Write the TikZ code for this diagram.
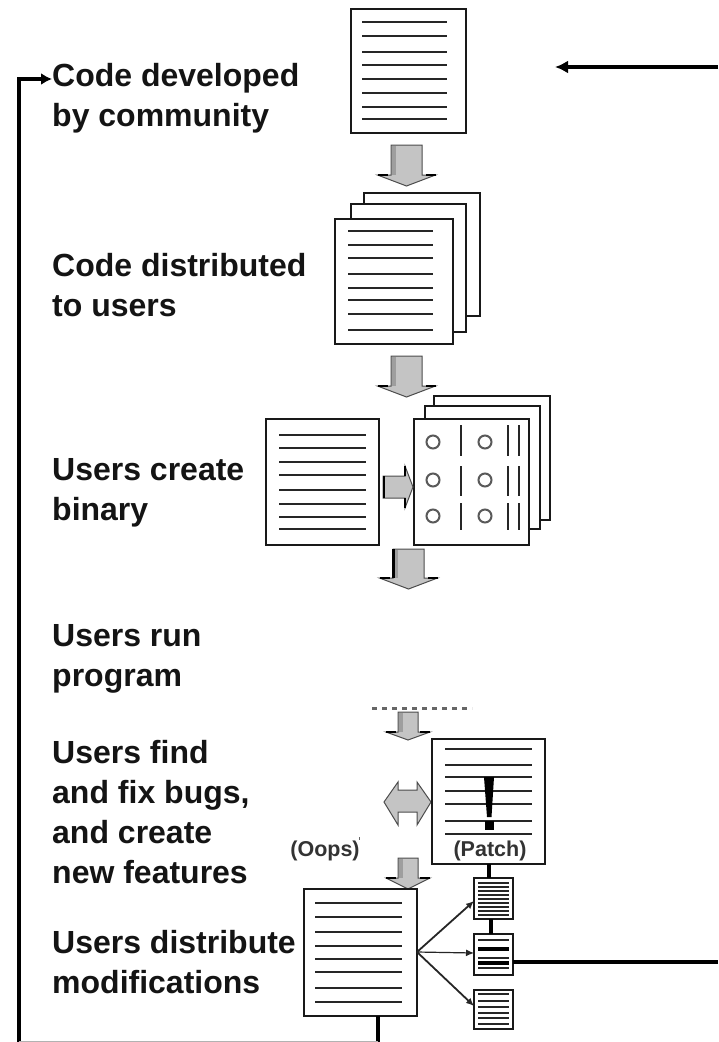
\documentclass[tikz,border=0pt]{standalone}
\usepackage{fontspec}
\setmainfont{Liberation Sans}
\usetikzlibrary{arrows.meta}
\tikzset{
  page/.style={draw=black!90,fill=white,line width=1.8pt,inner sep=0pt,outer sep=0pt},
  textline/.style={draw=black!85,line width=1.5pt},
  bar/.style={draw=black!85,line width=1.8pt},
  dot/.style={draw=black!65,line width=2pt,circle,fill=white,minimum size=13pt,inner sep=0pt},
  blockarrow/.style={draw=black!70,line width=1pt,fill=black!23,line join=miter},
  shade band/.style={fill=black!38},
  label/.style={font=\fontsize{32}{40}\selectfont\bfseries,anchor=west,align=left,inner sep=0pt,text=black!92},
  smalllabel/.style={font=\fontsize{21.5}{24}\selectfont\bfseries,inner sep=0pt,text=black!80},
  flow/.style={draw=black,line width=3.5pt},
  fan/.style={draw=black!85,line width=1.8pt,-{Latex[length=8pt,width=7pt]}},
}
\newcommand\pagebox[5]{%
  \pgfmathsetmacro\pw{#4-#2}\pgfmathsetmacro\ph{#5-#3}%
  \node[page,minimum width=\pw pt,minimum height=\ph pt] (#1) at ({(#2+#4)/2},{(#3+#5)/2}) {};}
\newcommand\hlines[3]{\foreach \yy in {#3} {\path[textline] (#1,\yy) -- (#2,\yy);}}
\newcommand\dnblock[6]{% cx halfshaft top neck halfhead tip
  \path[blockarrow] ({#1-#2},#3) -- ({#1+#2},#3) -- ({#1+#2},#4) -- ({#1+#5},#4) -- (#1,#6) -- ({#1-#5},#4) -- ({#1-#2},#4) -- cycle;
  \path[shade band] ({#1-#2+.5},{#3+.5}) rectangle ({#1-#2+5},#4);
  \path[draw=black,line width=1.6pt] ({#1+#5},#4) -- ({#1+#5-10},#4) ({#1-#5},#4) -- ({#1-#5+10},#4);}
\begin{document}
\begin{tikzpicture}[x=1pt,y=-1pt]
\useasboundingbox (0,0) rectangle (718,1042);
% labels
\node[label] (l1) at (52,98) {Code developed\\by community};
\node[label] (l2) at (52,285) {Code distributed\\to users};
\node[label] (l3) at (52,493) {Users create\\binary};
\node[label] (l4) at (52,659) {Users run\\program};
\node[label] (l5) at (52,812) {Users find\\and fix bugs,\\and create\\new features};
\node[label] (l6) at (52,962) {Users distribute\\modifications};
% source page
\pagebox{d1}{351}{9}{466}{133}
\hlines{362}{447}{22,36,52,65,79,93,107,119}
\dnblock{406.5}{15.5}{145}{175}{29}{186}
% distributed stack
\pagebox{s3}{364}{193}{480}{316}
\pagebox{s2}{351}{204}{466}{332}
\pagebox{s1}{335}{219}{453}{344}
\hlines{348}{433}{231,245,258,274,288,300,314,330}
\dnblock{406.5}{15.5}{356}{386}{29}{397}
% binary
\pagebox{b0}{266}{419}{379}{545}
\hlines{279}{366}{435,448,462,475,490,504,517,529}
\pagebox{b3}{434}{396}{550}{520}
\pagebox{b2}{425}{406}{540}{529}
\pagebox{b1}{414}{419}{529}{545}
\foreach \cy in {442,480,516} {
  \node[dot] (ca\cy) at (433,\cy) {};
  \node[dot] (cb\cy) at (485,\cy) {};
}
\foreach \xx in {461,508,519} {
  \path[bar] (\xx,425) -- (\xx,456);
  \path[bar] (\xx,466) -- (\xx,496);
  \path[bar] (\xx,503) -- (\xx,530);
}
\path[blockarrow] (383,476) -- (405,476) -- (405,466) -- (413,487) -- (405,508) -- (405,498) -- (383,498) -- cycle;
\path[draw=black,line width=2pt] (383.5,476) -- (383.5,498) (405,466) -- (405,476) (405,498) -- (405,508);
\dnblock{408.5}{15.5}{549}{578}{29}{589}
\path[draw=black,line width=3.5pt] (393.5,549) -- (393.5,578);
% run
\draw[black!60,line width=3pt,dash pattern=on 5pt off 5pt] (372,708) -- (472,708);
\dnblock{408}{10}{712}{732}{22}{740}
% patch
\path[blockarrow] (384,802) -- (398,782) -- (398,790) -- (417,790) -- (417,782) -- (431,802) -- (417,825) -- (417,812) -- (398,812) -- (398,825) -- cycle;
\pagebox{p}{432}{739}{545}{864}
\hlines{445}{532}{749,765,777,791,804,821,834}
\fill[black] (484,777) -- (494,777) -- (491.5,817) -- (487,817) -- cycle;
\fill[black] (485,821) rectangle (494,830);
\node[smalllabel] (patchl) at (490,851) {(Patch)};
\node[smalllabel] (oops) at (325,851) {(Oops)};
\fill[black!60] (359,837) rectangle (360,840);
\dnblock{408}{10}{858}{878}{22}{889}
% modifications
\pagebox{m}{304}{889}{417}{1016}
\hlines{315}{402}{903,917,932,946,959,972,988,1002}
\pagebox{q1}{474}{878}{513}{919}
\hlines{478}{509}{883,887,891,895,899,903,907,911,915}
\pagebox{q2}{474}{934}{513}{975}
\hlines{478}{509}{940,958,968}
\draw[black,line width=3.5pt] (478,949) -- (509,949);
\draw[black,line width=3.5pt] (478,963) -- (509,963);
\pagebox{q3}{474}{990}{513}{1029}
\hlines{478}{509}{994,1001,1007,1013,1018,1024}
\coordinate (mr) at (417,952);
\path[fan] (mr) -- (q1.west |- 0,901);
\path[fan,line width=1.2pt] (mr) -- (q2.west |- 0,953);
\path[fan] (mr) -- (q3.west |- 0,1006);
\coordinate (patchb) at (489,864);
\coordinate (q1t) at (489,878);
\path[flow] (patchb) -- (q1t);
\coordinate (q1b) at (491,919);
\coordinate (q2t) at (491,934);
\path[flow] (q1b) -- (q2t);
% feedback
\coordinate (rightend) at (718,962);
\coordinate (q2r) at (513,962);
\path[flow] (q2r) -- (rightend);
\coordinate (topright) at (718,67);
\coordinate (topleft) at (555,67);
\path[flow,-{Latex[length=13pt,width=13pt]}] (topright) -- (topleft);
\coordinate (mb) at (378,1016);
\coordinate (mbl) at (378,1042);
\path[flow] (mb) -- (mbl);
\coordinate (bl) at (19,1042);
\coordinate (tl) at (19,79);
\coordinate (tla) at (52,79);
\path[flow,-{Latex[length=11pt,width=12pt]}] (bl) -- (tl) -- (tla);
\draw[black!30,line width=1pt] (bl |- 0,1041.5) -- (mbl |- 0,1041.5);
\end{tikzpicture}
\end{document}
